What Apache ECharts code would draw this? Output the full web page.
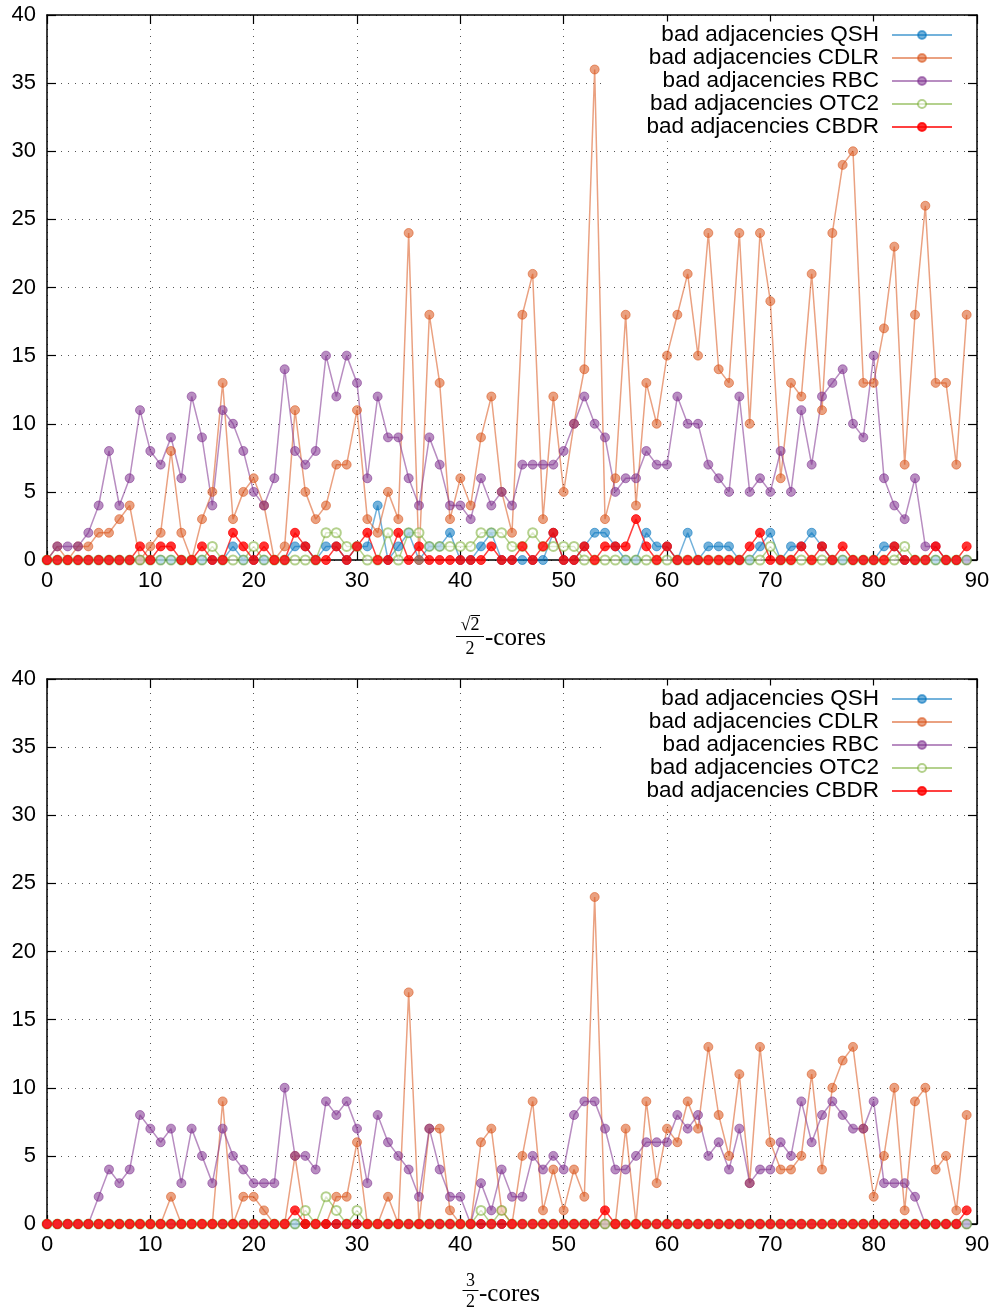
<!DOCTYPE html>
<html><head><meta charset="utf-8">
<script src="https://cdn.jsdelivr.net/npm/echarts@6/dist/echarts.min.js"></script>
<style>html,body{margin:0;padding:0;background:#fff}#c{width:993px;height:1315px}</style>
</head><body><div id="c"></div>
<script>
const seriesNames = ['bad adjacencies QSH','bad adjacencies CDLR','bad adjacencies RBC','bad adjacencies OTC2','bad adjacencies CBDR'];
const seriesColors = ['#0072bd','#d95319','#7e2f8e','#77ac30','#ff0000'];
const yTicks = [0,5,10,15,20,25,30,35,40];
const xTicks = [0,10,20,30,40,50,60,70,80,90];

// top chart (sqrt(2)/2-cores)
const topQSH = [0,0,0,0,0,0,0,0,0,0, 0,0,0,0,0,0,0,0,1,0, 0,0,0,0,1,1,0,1,1,0, 1,1,4,0,1,2,0,1,1,2, 0,0,1,2,0,0,0,0,0,2, 0,0,1,2,2,1,0,0,2,1, 1,0,2,0,1,1,1,0,0,1, 2,0,1,1,2,1,0,0,0,0, 0,1,1,0,0,0,0,0,0,0];
const topCDLR = [0,1,0,1,1,2,2,3,4,0, 1,2,8,2,0,3,5,13,3,5, 6,4,0,1,11,5,3,4,7,7, 11,3,2,5,3,24,0,18,13,3, 6,4,9,12,5,2,18,21,3,12, 5,10,14,36,3,6,18,4,13,10, 15,18,21,15,24,14,13,24,10,24, 19,6,13,12,21,11,24,29,30,13, 13,17,23,7,18,26,13,13,7,18];
const topRBC = [0,1,1,1,2,4,8,4,6,11, 8,7,9,6,12,9,4,11,10,8, 5,4,6,14,8,7,8,15,12,15, 13,6,12,9,9,6,4,9,7,4, 4,3,6,4,5,4,7,7,7,7, 8,10,12,10,9,5,6,6,8,7, 7,12,10,10,7,6,5,12,5,6, 5,8,5,11,7,12,13,14,10,9, 15,6,4,3,6,1,1,0,0,0];
const topOTC2 = [0,0,0,0,0,0,0,0,0,0, 0,0,0,0,0,0,1,0,0,0, 1,0,0,0,0,0,0,2,2,1, 1,0,0,2,0,2,2,1,1,1, 1,1,2,2,2,1,1,2,1,1, 1,1,0,0,0,0,0,0,0,0, 0,0,0,0,0,0,0,0,0,0, 1,0,0,0,0,0,0,0,0,0, 0,0,0,1,0,0,0,0,0,0];
const topCBDR = [0,0,0,0,0,0,0,0,0,1, 0,1,1,0,0,1,0,0,2,1, 0,1,0,0,2,1,0,0,1,0, 1,2,0,0,2,0,1,0,0,0, 0,0,0,1,0,0,1,0,1,2, 0,0,1,0,1,1,1,3,1,0, 1,0,0,0,0,0,0,0,1,2, 0,0,0,1,0,1,0,1,0,0, 0,0,1,0,0,0,1,0,0,1];

// bottom chart (3/2-cores)
const botQSH = [0,0,0,0,0,0,0,0,0,0, 0,0,0,0,0,0,0,0,0,0, 0,0,0,0,0,0,0,0,0,0, 0,0,0,0,0,0,0,0,0,0, 0,0,0,0,0,0,0,0,0,0, 0,0,0,0,0,0,0,0,0,0, 0,0,0,0,0,0,0,0,0,0, 0,0,0,0,0,0,0,0,0,0, 0,0,0,0,0,0,0,0,0,0];
const botCDLR = [0,0,0,0,0,0,0,0,0,0, 0,0,2,0,0,0,0,9,0,2, 2,1,0,0,5,0,0,0,2,2, 6,0,0,2,0,17,0,7,7,1, 0,0,6,7,1,0,5,9,1,4, 1,4,2,24,0,0,7,0,9,3, 7,6,9,7,13,8,5,11,3,13, 6,4,4,5,11,4,10,12,13,7, 2,5,10,1,9,10,4,5,1,8];
const botRBC = [0,0,0,0,0,2,4,3,4,8, 7,6,7,3,7,5,3,7,5,4, 3,3,3,10,5,5,4,9,8,9, 7,3,8,6,5,4,2,7,4,2, 2,0,3,1,4,2,2,5,4,5, 4,8,9,9,7,4,4,5,6,6, 6,8,7,8,5,6,4,7,3,4, 4,6,5,9,6,8,9,8,7,7, 9,3,3,3,2,0,0,0,0,0];
const botOTC2 = [0,0,0,0,0,0,0,0,0,0, 0,0,0,0,0,0,0,0,0,0, 0,0,0,0,0,1,0,2,1,0, 1,0,0,0,0,0,0,0,0,0, 0,0,1,0,1,0,0,0,0,0, 0,0,0,0,0,0,0,0,0,0, 0,0,0,0,0,0,0,0,0,0, 0,0,0,0,0,0,0,0,0,0, 0,0,0,0,0,0,0,0,0,0];
const botCBDR = [0,0,0,0,0,0,0,0,0,0, 0,0,0,0,0,0,0,0,0,0, 0,0,0,0,1,0,0,0,0,0, 0,0,0,0,0,0,0,0,0,0, 0,0,0,0,0,0,0,0,0,0, 0,0,0,0,1,0,0,0,0,0, 0,0,0,0,0,0,0,0,0,0, 0,0,0,0,0,0,0,0,0,0, 0,0,0,0,0,0,0,0,0,1];

const topData = [topQSH, topCDLR, topRBC, topOTC2, topCBDR];
const botData = [botQSH, botCDLR, botRBC, botOTC2, botCBDR];

const chart = echarts.init(document.getElementById('c'), null, {renderer:'canvas'});
const sans = 'Liberation Sans';
const serif = 'Liberation Serif';

function xAxes(gi) {
  const base = {gridIndex: gi, type:'value', min: xTicks[0], max: xTicks[xTicks.length-1], interval: 10};
  return [
    Object.assign({}, base, {position:'bottom',
      axisLine:{show:true, onZero:false, lineStyle:{color:'#000', width:1.5}},
      axisTick:{show:true, inside:true, length:9, lineStyle:{color:'#000', width:1.2}},
      axisLabel:{show:true, color:'#000', fontSize:22, fontFamily:sans, margin:10},
      splitLine:{show:true, lineStyle:{color:'#555', width:1, type:[1,6]}}}),
    Object.assign({}, base, {position:'top',
      axisLine:{show:true, onZero:false, lineStyle:{color:'#000', width:1.5}},
      axisTick:{show:true, inside:true, length:9, lineStyle:{color:'#000', width:1.2}},
      axisLabel:{show:false}, splitLine:{show:false}})
  ];
}
function yAxes(gi) {
  const base = {gridIndex: gi, type:'value', min: yTicks[0], max: yTicks[yTicks.length-1], interval: 5};
  return [
    Object.assign({}, base, {position:'left',
      axisLine:{show:true, onZero:false, lineStyle:{color:'#000', width:1.5}},
      axisTick:{show:true, inside:true, length:9, lineStyle:{color:'#000', width:1.2}},
      axisLabel:{show:true, color:'#000', fontSize:22, fontFamily:sans, margin:11},
      splitLine:{show:true, lineStyle:{color:'#555', width:1, type:[1,6]}}}),
    Object.assign({}, base, {position:'right',
      axisLine:{show:true, onZero:false, lineStyle:{color:'#000', width:1.5}},
      axisTick:{show:true, inside:true, length:9, lineStyle:{color:'#000', width:1.2}},
      axisLabel:{show:false}, splitLine:{show:false}})
  ];
}

function makeSeries(dataSets, gi) {
  return dataSets.map((arr, k) => ({
    type:'line', name: seriesNames[k],
    xAxisIndex: gi*2, yAxisIndex: gi*2,
    data: arr.map((v, i) => [i, v]),
    symbol: k === 3 ? 'emptyCircle' : 'circle',
    symbolSize: 9,
    showAllSymbol: true,
    lineStyle:{color: seriesColors[k], width:1.5, opacity: k===4 ? 0.75 : 0.55},
    itemStyle:{color: seriesColors[k], opacity: k===4 ? 0.8 : 0.55, borderColor: seriesColors[k], borderWidth: 1},
    emphasis:{disabled:true},
    animation:false
  }));
}

function legendAt(top) {
  return {
    orient:'vertical', align:'right', right: 32, top: top,
    itemWidth: 60, itemHeight: 10, itemGap: 0,
    padding:[2, 8, 2, 42], backgroundColor:'#fff',
    selectedMode:false,
    textStyle:{fontSize:22.5, fontFamily:sans, color:'#000', lineHeight:23, padding:[0,8,0,0]},
    data: seriesNames
  };
}

function fracLabel(numText, denText, cx, numY, barY, barHalf, denY, coresX, coresY, withRoot) {
  const els = [
    {type:'text', x: cx, y: numY, style:{text: numText, font: '18px "' + serif + '"', fill:'#000', textAlign:'center', textVerticalAlign:'middle'}},
    {type:'line', shape:{x1: cx-barHalf, y1: barY, x2: cx+barHalf, y2: barY}, style:{stroke:'#000', lineWidth:1}},
    {type:'text', x: cx, y: denY, style:{text: denText, font: '18px "' + serif + '"', fill:'#000', textAlign:'center', textVerticalAlign:'middle'}},
    {type:'text', x: coresX, y: coresY, style:{text: '-cores', font: '25px "' + serif + '"', fill:'#000', textAlign:'left', textVerticalAlign:'middle'}}
  ];
  if (withRoot) {
    els.push({type:'line', shape:{x1: cx+0.5, y1: numY-9.5, x2: cx+10, y2: numY-9.5}, style:{stroke:'#000', lineWidth:1}});
  }
  return els;
}

const option = {
  backgroundColor:'#fff',
  animation:false,
  grid:[
    {left:47, top:15, width:930, height:545, show:false},
    {left:47, top:679, width:930, height:545, show:false}
  ],
  xAxis: xAxes(0).concat(xAxes(1)),
  yAxis: yAxes(0).concat(yAxes(1)),
  legend:[legendAt(21.5), legendAt(685.5)],
  series: makeSeries(topData, 0).concat(makeSeries(botData, 1)),
  graphic: fracLabel('\u221A2', '2', 470, 625, 636.5, 14, 649, 485, 638, true)
    .concat(fracLabel('3', '2', 470.5, 1281, 1290.5, 8, 1302, 479, 1294, false))
};
chart.setOption(option);
</script>
</body></html>
